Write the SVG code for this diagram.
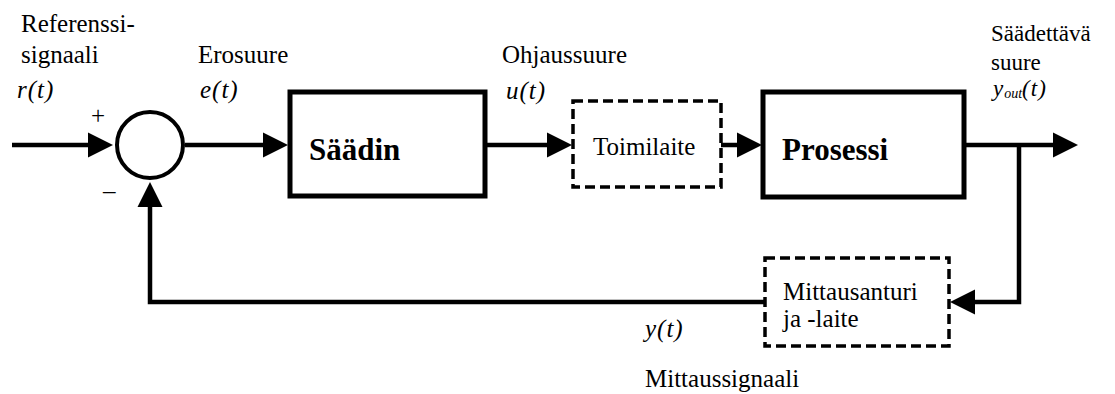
<svg xmlns="http://www.w3.org/2000/svg" width="1115" height="394" viewBox="0 0 1115 394">
<style>
text{font-family:"Liberation Serif","Times New Roman",serif;font-size:25px;fill:#000}
.it{font-style:italic;letter-spacing:1px}
.bold{font-weight:bold;font-size:31px}
.sm{font-size:23px}
.box{fill:#fff;stroke:#000;stroke-width:5}
.dash{fill:#fff;stroke:#000;stroke-width:3.5;stroke-dasharray:10 5}
.wire{fill:none;stroke:#000;stroke-width:4.5;marker-end:url(#ah)}
</style>
<defs>
<marker id="ah" markerUnits="userSpaceOnUse" markerWidth="25" markerHeight="25" refX="0" refY="12.5" orient="auto" overflow="visible">
<path d="M0,0 L25,12.5 L0,25 Z" fill="#000"/>
</marker>
</defs>
<g id="connectors">
<path class="wire" d="M12,145 H88"/>
<path class="wire" d="M185,145 H263"/>
<path class="wire" d="M485,145 H547"/>
<path class="wire" d="M721,145 H737"/>
<path class="wire" d="M964,145 H1053"/>
<path class="wire" d="M1019,145 V302 H975"/>
<path class="wire" d="M765,302 H150 V207"/>
</g>
<g id="sum">
<circle cx="150" cy="145" r="33" fill="#fff" stroke="#000" stroke-width="4"/>
<text x="91" y="124">+</text>
<text x="103" y="199">–</text>
</g>
<g id="saadin">
<rect class="box" x="290" y="92" width="195" height="104"/>
<text class="bold" x="309" y="160">Säädin</text>
</g>
<g id="toimilaite">
<rect class="dash" x="573" y="101" width="148" height="86"/>
<text x="593" y="155">Toimilaite</text>
</g>
<g id="prosessi">
<rect class="box" x="763" y="92" width="201" height="105"/>
<text class="bold" x="782" y="160">Prosessi</text>
</g>
<g id="mittausanturi">
<rect class="dash" x="765" y="258" width="184" height="88"/>
<text x="783" y="300">Mittausanturi</text>
<text x="783" y="327">ja -laite</text>
</g>
<g id="labels">
<text x="21" y="32">Referenssi-</text>
<text x="21" y="63">signaali</text>
<text class="it" x="17" y="98">r(t)</text>
<text x="198" y="63">Erosuure</text>
<text class="it" x="200" y="98">e(t)</text>
<text x="502" y="63">Ohjaussuure</text>
<text class="it" x="506" y="99">u(t)</text>
<text class="sm" x="991" y="41">Säädettävä</text>
<text class="sm" x="991" y="70">suure</text>
<text class="it sm" x="993" y="96">y<tspan font-size="14" letter-spacing="0" dy="2">out</tspan><tspan dy="-2">(t)</tspan></text>
<text class="it" x="645" y="337">y(t)</text>
<text x="645" y="387">Mittaussignaali</text>
</g>
</svg>
